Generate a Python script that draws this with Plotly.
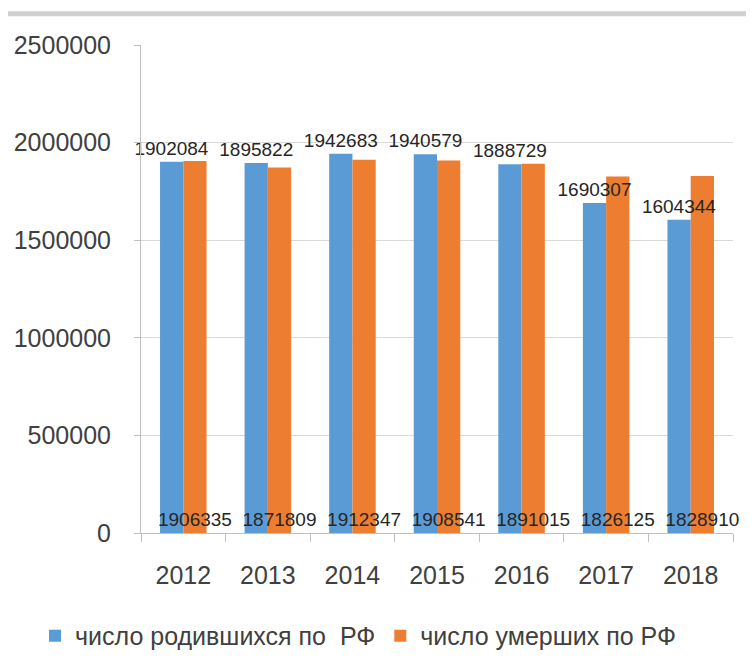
import plotly.graph_objects as go

years = ["2012", "2013", "2014", "2015", "2016", "2017", "2018"]
births = [1902084, 1895822, 1942683, 1940579, 1888729, 1690307, 1604344]
deaths = [1906335, 1871809, 1912347, 1908541, 1891015, 1826125, 1828910]
births_name = "число родившихся по  РФ"
deaths_name = "число умерших по РФ"
y_ticks = [0, 500000, 1000000, 1500000, 2000000, 2500000]

FONT = "Liberation Sans, Arial, sans-serif"
BW = 0.275
LABEL_FONT = dict(family=FONT, size=19, color="#262626")

fig = go.Figure()
# bars
fig.add_trace(go.Bar(
    x=years, y=births, name=births_name, legendrank=1,
    width=BW, offset=-BW, marker=dict(color="#5B9BD5", line=dict(width=0)),
))
fig.add_trace(go.Bar(
    x=years, y=deaths, name=deaths_name, legendrank=2,
    width=BW, offset=0, marker=dict(color="#ED7D31", line=dict(width=0)),
))
# data labels drawn above all bars
fig.add_trace(go.Bar(
    x=years, y=births, showlegend=False, hoverinfo="skip",
    width=BW, offset=-BW, marker=dict(color="rgba(0,0,0,0)", line=dict(width=0)),
    text=[str(v) for v in births],
    textposition="outside", textangle=0, constraintext="none", cliponaxis=False,
    outsidetextfont=LABEL_FONT,
))
fig.add_trace(go.Bar(
    x=years, y=deaths, showlegend=False, hoverinfo="skip",
    width=BW, offset=0, marker=dict(color="rgba(0,0,0,0)", line=dict(width=0)),
    text=[str(v) for v in deaths], textposition="inside",
    insidetextanchor="start", textangle=0, constraintext="none", cliponaxis=False,
    insidetextfont=LABEL_FONT,
))

fig.update_layout(
    width=754, height=670,
    margin=dict(l=133, r=29, t=37, b=145, autoexpand=False),
    paper_bgcolor="white", plot_bgcolor="white",
    barmode="overlay",
    font=dict(family=FONT, color="#404040"),
    showlegend=True,
    legend=dict(orientation="h", x=-0.179, xanchor="left",
                y=-0.211, yanchor="middle",
                font=dict(family=FONT, size=25, color="#404040"),
                itemwidth=30, traceorder="normal"),
)
fig.update_xaxes(
    type="category", showgrid=False, showline=True, linecolor="#bfbfbf", linewidth=1,
    ticks="outside", tickson="boundaries", ticklen=8, tickcolor="#bfbfbf",
    tickfont=dict(family=FONT, size=25, color="#404040"), ticklabelstandoff=20,
    automargin=False,
)
fig.update_yaxes(
    range=[0, 2500000], tickvals=y_ticks, ticktext=[str(v) for v in y_ticks],
    showgrid=True, gridcolor="#d9d9d9", gridwidth=1,
    showline=True, linecolor="#bfbfbf", linewidth=1,
    ticks="outside", ticklen=6, tickcolor="#bfbfbf",
    tickfont=dict(family=FONT, size=25, color="#404040"), ticklabelstandoff=18,
    zeroline=False, automargin=False,
)
fig.add_shape(type="line", xref="paper", yref="paper", x0=-0.24, x1=1.06, y0=1.064, y1=1.064,
              line=dict(color="#d0d0d0", width=5))

fig.write_html("out.html")
